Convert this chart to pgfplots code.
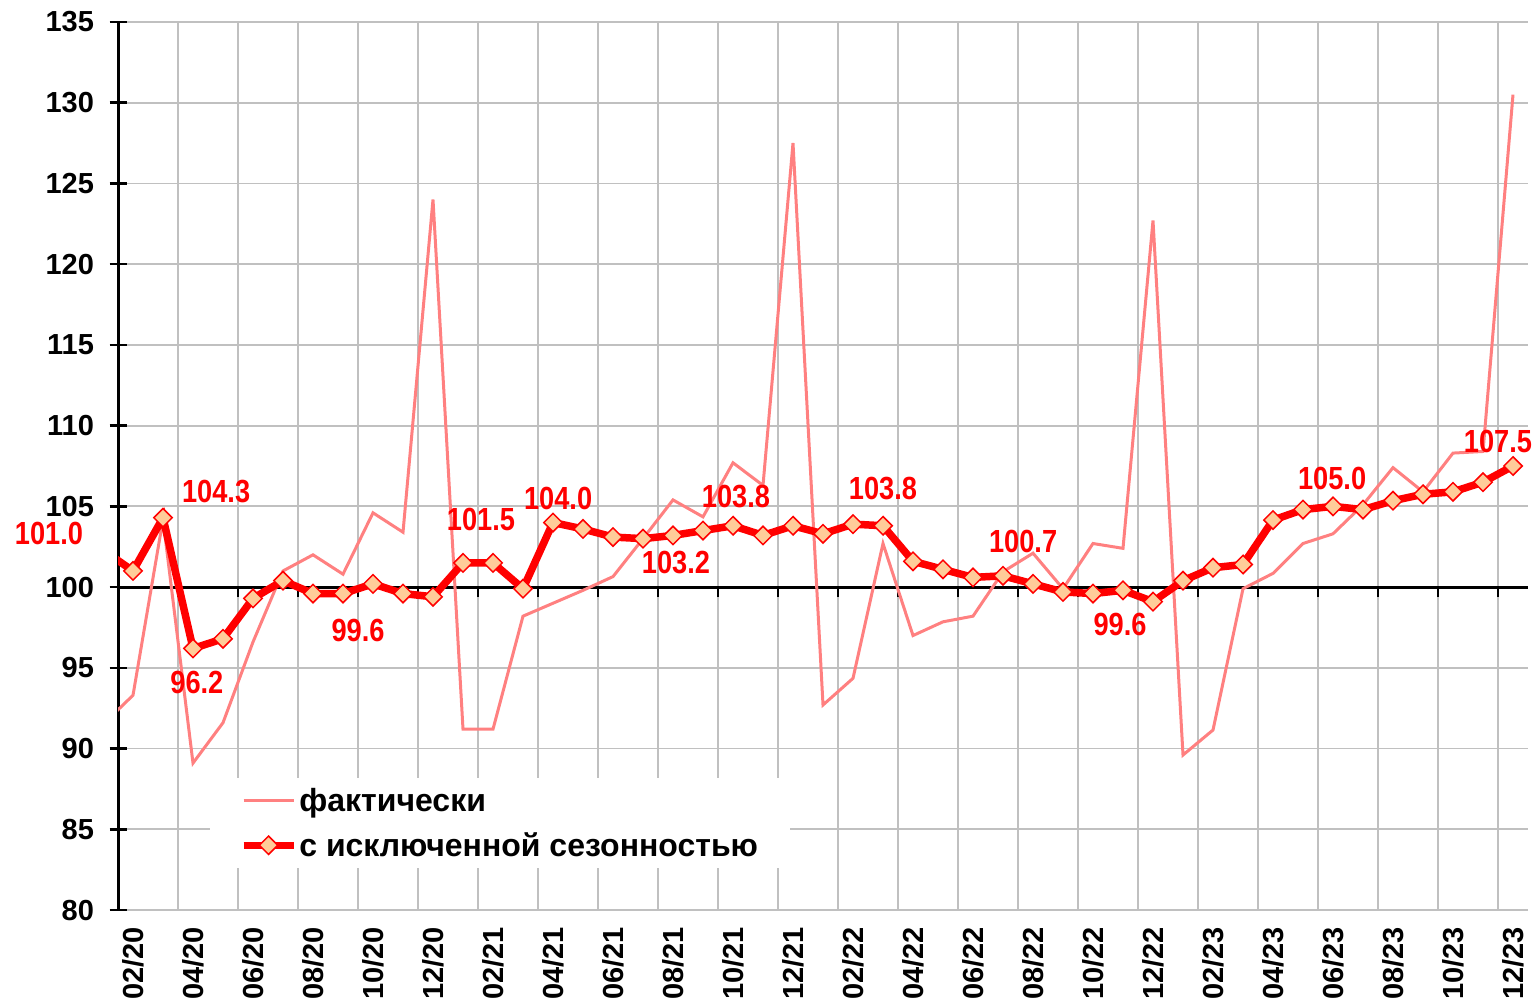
\documentclass[border=0pt]{standalone}
\usepackage{fontspec}
\setmainfont{Liberation Sans}
\usepackage{graphicx}
\usepackage{pgfplots}
\pgfplotsset{compat=1.18}
\definecolor{actual}{HTML}{FF8080}
\definecolor{mfill}{HTML}{FFCC99}
\definecolor{gridgray}{HTML}{C0C0C0}

\pgfplotstableread{
idx act sa
1 91.5 102.3
2 93.3 101.0
3 104.2 104.3
4 89.1 96.2
5 91.6 96.8
6 96.6 99.3
7 101.0 100.4
8 102.0 99.6
9 100.8 99.6
10 104.6 100.2
11 103.4 99.6
12 124.0 99.4
13 91.2 101.5
14 91.2 101.5
15 98.2 99.9
16 99.0 104.0
17 99.8 103.6
18 100.65 103.1
19 103.0 103.0
20 105.4 103.2
21 104.35 103.5
22 107.7 103.8
23 106.3 103.2
24 127.5 103.8
25 92.7 103.3
26 94.35 103.9
27 102.7 103.8
28 97.0 101.6
29 97.85 101.1
30 98.2 100.6
31 100.95 100.7
32 102.1 100.2
33 99.9 99.7
34 102.7 99.6
35 102.4 99.8
36 122.7 99.1
37 89.6 100.4
38 91.15 101.2
39 99.9 101.4
40 100.85 104.15
41 102.7 104.8
42 103.3 105.0
43 105.1 104.8
44 107.4 105.35
45 105.9 105.75
46 108.3 105.9
47 108.4 106.5
48 130.5 107.5
}\datatable

\tikzset{lbl/.style={text=red, inner sep=0pt, font=\fontsize{32}{34}\selectfont\bfseries}}
\newcommand{\nl}[1]{\scalebox{0.85}[1]{#1}}

\begin{document}
\begin{tikzpicture}
\begin{axis}[
  scale only axis, width=1410pt, height=888pt,
  xmin=1.5, xmax=48.5, ymin=80, ymax=135,
  clip mode=individual,
  axis y line=left, axis x line=bottom,
  x axis line style={draw=none},
  y axis line style={black, line width=3pt, -},
  ytick={80,85,...,135},
  ymajorgrids,
  grid style={gridgray, line width=1.8pt},
  xtick={2,4,...,48},
  xticklabels={02/20,04/20,06/20,08/20,10/20,12/20,02/21,04/21,06/21,08/21,10/21,12/21,02/22,04/22,06/22,08/22,10/22,12/22,02/23,04/23,06/23,08/23,10/23,12/23},
  minor xtick={3.5,5.5,7.5,9.5,11.5,13.5,15.5,17.5,19.5,21.5,23.5,25.5,27.5,29.5,31.5,33.5,35.5,37.5,39.5,41.5,43.5,45.5,47.5},
  xminorgrids,
  minor grid style={gridgray, line width=1.8pt},
  xtick style={draw=none}, minor x tick style={draw=none},
  ytick style={black, line width=2.5pt},
  major tick length=17pt, tick align=center,
  /pgf/number format/assume math mode=true,
  ticklabel style={font=\fontsize{29}{32}\selectfont\bfseries},
  yticklabel style={xshift=-12pt},
  xticklabel style={rotate=90, anchor=east},
  xticklabel shift=5pt,
  legend style={at={(0.065,0.149)}, anchor=north west, fill=white, draw=none,
    font=\fontsize{32}{36}\selectfont\bfseries, inner xsep=30pt, inner ysep=8pt,
    row sep=16pt, cells={anchor=west}},
  legend image code/.code={\draw[mark repeat=2,mark phase=2] plot coordinates {(0pt,0pt) (25pt,0pt) (50pt,0pt)};},
]
\addplot[black, line width=3pt, forget plot] coordinates {(1.5,100) (48.5,100)};
\pgfplotsinvokeforeach{3.5,5.5,7.5,9.5,11.5,13.5,15.5,17.5,19.5,21.5,23.5,25.5,27.5,29.5,31.5,33.5,35.5,37.5,39.5,41.5,43.5,45.5,47.5}{
  \draw[black, line width=2.5pt] (axis cs:#1,100) -- (axis cs:#1,99.38);
}
\addplot[actual, line width=3pt] table[x=idx, y=act] {\datatable};
\addlegendentry{фактически}
\addplot[red, line width=7.5pt, mark=square*, mark size=6.5pt,
  mark options={rotate=45, fill=mfill, draw=red, line width=1.5pt}] table[x=idx, y=sa] {\datatable};
\addlegendentry{с исключенной сезонностью}

\node[lbl] at (axis cs:-0.8,103.3) {\nl{101.0}};
\node[lbl] at (axis cs:4.77,105.9) {\nl{104.3}};
\node[lbl] at (axis cs:4.13,94.1) {\nl{96.2}};
\node[lbl] at (axis cs:9.5,97.3) {\nl{99.6}};
\node[lbl] at (axis cs:13.6,104.2) {\nl{101.5}};
\node[lbl] at (axis cs:16.17,105.5) {\nl{104.0}};
\node[lbl] at (axis cs:22.1,105.6) {\nl{103.8}};
\node[lbl] at (axis cs:20.1,101.5) {\nl{103.2}};
\node[lbl] at (axis cs:27.0,106.1) {\nl{103.8}};
\node[lbl] at (axis cs:31.67,102.85) {\nl{100.7}};
\node[lbl] at (axis cs:34.9,97.7) {\nl{99.6}};
\node[lbl] at (axis cs:41.97,106.7) {\nl{105.0}};
\node[lbl] at (axis cs:47.5,109.0) {\nl{107.5}};

\coordinate (SW) at (rel axis cs:0,0);
\coordinate (NE) at (rel axis cs:1,1);
\end{axis}
\pgfresetboundingbox
\path[use as bounding box] ([xshift=-118pt,yshift=-97pt]SW) rectangle ([xshift=10pt,yshift=22pt]NE);
\end{tikzpicture}
\end{document}
